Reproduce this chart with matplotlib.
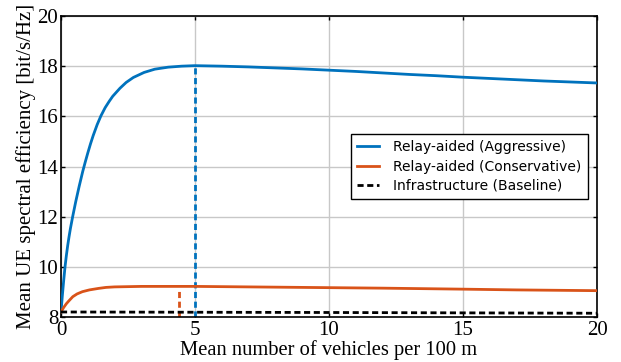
import matplotlib
matplotlib.use("Agg")
import matplotlib.pyplot as plt

# Data
x_aggr = [0, 0.05, 0.1, 0.15, 0.2, 0.25, 0.3, 0.35, 0.435, 0.55, 0.68, 0.81, 0.9, 1.0, 1.1, 1.2, 1.35, 1.49, 1.65, 1.8, 1.93, 2.2, 2.43, 2.7, 3.1, 3.5, 4.0, 4.5, 5.0, 6.0, 7.0, 8.0, 9.0, 10.0, 11.0, 12.0, 13.0, 14.0, 15.0, 16.0, 17.0, 18.0, 19.0, 20.0]
y_aggr = [8.2, 8.85, 9.45, 10.0, 10.45, 10.85, 11.2, 11.52, 12.0, 12.6, 13.22, 13.8, 14.16, 14.54, 14.9, 15.23, 15.67, 16.02, 16.35, 16.6, 16.8, 17.12, 17.35, 17.55, 17.75, 17.88, 17.96, 18.0, 18.02, 18.0, 17.97, 17.93, 17.89, 17.84, 17.79, 17.73, 17.67, 17.62, 17.56, 17.51, 17.46, 17.41, 17.37, 17.33]

x_cons = [0, 0.1, 0.2, 0.3, 0.44, 0.6, 0.8, 1.06, 1.4, 1.68, 2.0, 2.5, 3.0, 3.5, 4.0, 4.5, 5.0, 6.0, 7.0, 8.0, 9.0, 10.0, 12.0, 15.0, 17.0, 20.0]
y_cons = [8.2, 8.38, 8.53, 8.65, 8.81, 8.92, 9.01, 9.08, 9.14, 9.18, 9.2, 9.21, 9.22, 9.22, 9.22, 9.22, 9.22, 9.21, 9.2, 9.19, 9.18, 9.17, 9.15, 9.11, 9.08, 9.05]

x_base = [0, 5, 10, 15, 20]
y_base = [8.2, 8.19, 8.18, 8.165, 8.15]

peak_aggr = (5.0, 18.02)
peak_cons = (4.39, 9.12)

labels = ["Relay-aided (Aggressive)", "Relay-aided (Conservative)", "Infrastructure (Baseline)"]
xticks = [0, 5, 10, 15, 20]
yticks = [8, 10, 12, 14, 16, 18, 20]

blue = "#0072BD"
orange = "#D95319"
dash = (0, (2.2, 1.3))

fig = plt.figure(figsize=(6.21, 3.62), dpi=100)
ax = fig.add_axes([61/621, 1 - 317/362, (597-61)/621, (317-16)/362])

ax.plot(x_aggr, y_aggr, color=blue, lw=2, label=labels[0], zorder=3)
ax.plot(x_cons, y_cons, color=orange, lw=2, label=labels[1], zorder=3)
ax.plot(x_base, y_base, color="black", lw=2, ls=dash, label=labels[2], zorder=3)

ax.plot([peak_aggr[0], peak_aggr[0]], [8, peak_aggr[1]], color=blue, lw=2, ls=dash, zorder=2)
ax.plot([peak_cons[0], peak_cons[0]], [8, peak_cons[1]], color=orange, lw=2, ls=dash, zorder=2)

ax.set_xlim(0, 20)
ax.set_ylim(8, 20)
ax.set_xticks(xticks)
ax.set_yticks(yticks)
ax.grid(True, color="#c8c8c8", lw=1)
ax.set_axisbelow(True)

serif = ["Liberation Serif", "DejaVu Serif"]
ax.set_xticklabels([str(t) for t in xticks], family=serif, fontsize=15)
ax.set_yticklabels([str(t) for t in yticks], family=serif, fontsize=15)
ax.tick_params(direction="in", length=3, top=True, right=True, pad=2, width=1)
ax.tick_params(axis="x", pad=3)
ax.set_xlabel("Mean number of vehicles per 100 m", family=serif, fontsize=14.8, labelpad=0)
ax.set_ylabel("Mean UE spectral efficiency [bit/s/Hz]", family=serif, fontsize=15, labelpad=1)

for s in ax.spines.values():
    s.set_color("black")
    s.set_linewidth(1.2)

leg = ax.legend(loc="upper left", bbox_to_anchor=((351-61)/536, (317-134)/301),
                fontsize=10, frameon=True, fancybox=False, edgecolor="black",
                framealpha=1, handlelength=1.6, borderpad=0.45, labelspacing=0.38,
                handletextpad=1.0, borderaxespad=0)
leg.get_frame().set_linewidth(1)

fig.savefig("out.png", dpi=100)
